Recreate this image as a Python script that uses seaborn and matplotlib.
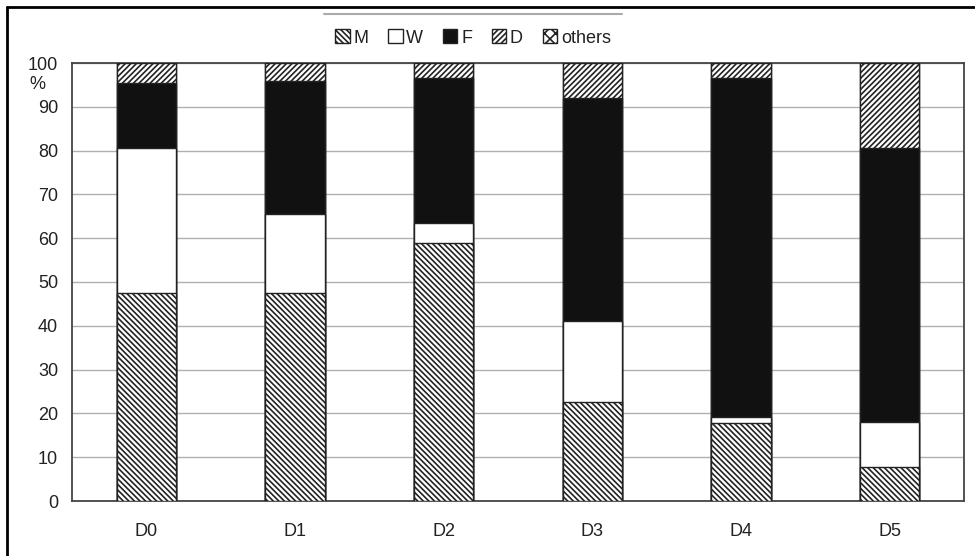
import numpy as np
import pandas as pd
import matplotlib
matplotlib.use("Agg")
import matplotlib.pyplot as plt
import seaborn as sns
from matplotlib.patches import Patch
from matplotlib.lines import Line2D

# ----------------------------
# dados
# ----------------------------
dias = ["D0", "D1", "D2", "D3", "D4", "D5"]
M = [47.5, 47.5, 59.0, 22.5, 17.8, 7.7]
W = [33.0, 18.0, 4.5, 18.5, 1.3, 10.3]
F = [15.0, 30.5, 33.0, 51.0, 77.4, 62.5]
D = [4.5, 4.0, 3.5, 8.0, 3.5, 19.5]
others = [0.0, 0.0, 0.0, 0.0, 0.0, 0.0]

df = pd.DataFrame({"dia": dias, "M": M, "W": W, "F": F, "D": D, "others": others})
series = ["M", "W", "F", "D", "others"]
cum = df[series].cumsum(axis=1)

estilo = {
    "M": dict(color="white", hatch="\\\\\\\\\\\\"),
    "W": dict(color="white", hatch=""),
    "F": dict(color="#111111", hatch=""),
    "D": dict(color="white", hatch="//////"),
    "others": dict(color="white", hatch="xxx"),
}

sns.set_style("white")
plt.rcParams["font.family"] = ["Liberation Sans", "DejaVu Sans"]
plt.rcParams["hatch.linewidth"] = 1.2

fig = plt.figure(figsize=(9.75, 5.56), dpi=100)
ax = fig.add_axes([72 / 975, 1 - 501 / 556, 892 / 975, 438 / 556])

# barras empilhadas: desenha do topo para baixo
for s in reversed(series):
    sns.barplot(x=df["dia"], y=cum[s], ax=ax, color=estilo[s]["color"],
                hatch=estilo[s]["hatch"], edgecolor="#222222", linewidth=1.0,
                width=0.40, saturation=1, zorder=3)

ax.set_ylim(0, 100)
ax.set_xlim(-0.5, 5.5)
ax.set_yticks(range(0, 101, 10))
ax.set_xlabel("")
ax.set_ylabel("")
ax.yaxis.grid(True, color="#b0b0b0", linewidth=1.0, zorder=0)
ax.set_axisbelow(True)
for sp in ax.spines.values():
    sp.set_color("#444444")
    sp.set_linewidth(1.3)
ax.tick_params(axis="y", length=7, width=1.0, color="#999999", labelsize=13, pad=3,
               labelcolor="#222222")
ax.tick_params(axis="x", length=0, labelsize=13, pad=16, labelcolor="#222222")
ax.set_xticks(np.arange(-0.5, 6.0, 1.0), minor=True)
ax.tick_params(axis="x", which="minor", length=7, width=1.0, color="#999999")
ax.text(-0.03, 0.95, "%", transform=ax.transAxes, ha="right", va="center",
        fontsize=13, color="#222222")

# legenda
handles = [Patch(facecolor=estilo[s]["color"], hatch=estilo[s]["hatch"],
                 edgecolor="#222222", linewidth=1.0, label=s) for s in series]
fig.legend(handles=handles, loc="center", bbox_to_anchor=(473 / 975, 1 - 38 / 556), ncol=5,
           frameon=False, fontsize=13, handlelength=0.8, handleheight=0.8,
           handletextpad=0.2, columnspacing=1.1, labelcolor="#222222")
fig.add_artist(Line2D([324 / 975, 622 / 975], [1 - 14 / 556] * 2, color="#aaaaaa", linewidth=1.5))

# moldura (apenas topo e esquerda, como no original)
fig.add_artist(Line2D([7 / 975, 1.0], [1 - 7 / 556] * 2, color="black", linewidth=2))
fig.add_artist(Line2D([7 / 975] * 2, [0.0, 1 - 7 / 556], color="black", linewidth=2))

fig.savefig("out.png", dpi=100)
